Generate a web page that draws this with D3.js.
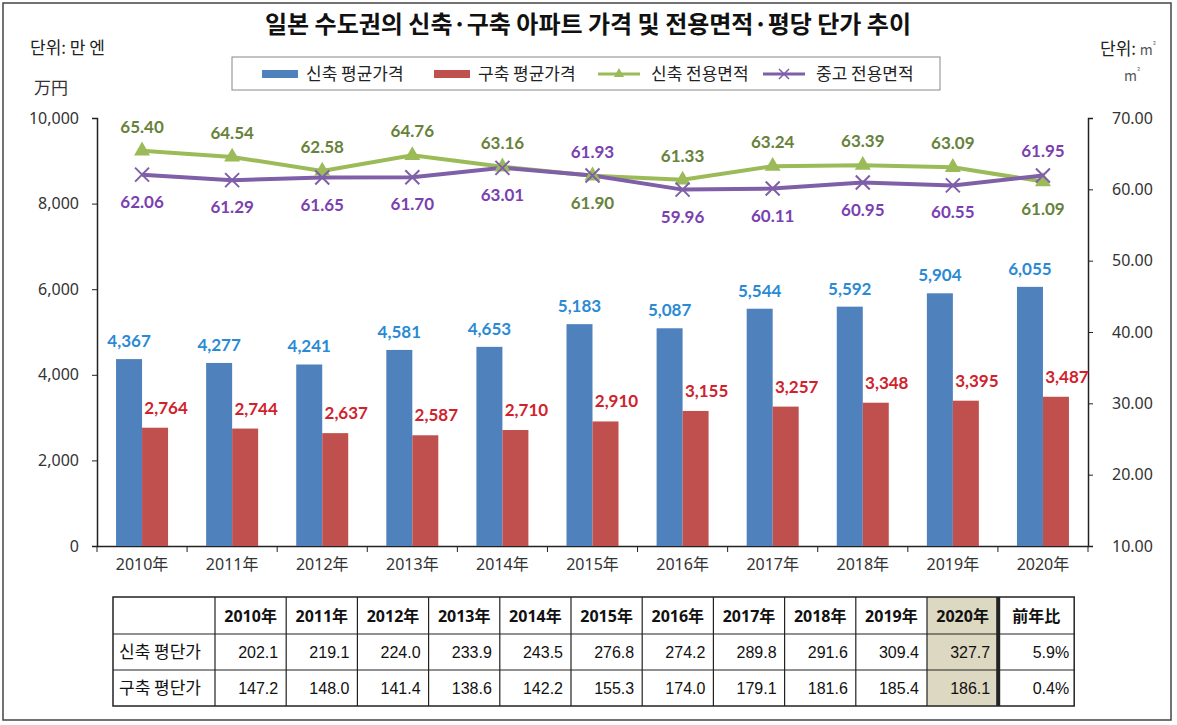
<!DOCTYPE html>
<html>
<head>
<meta charset="utf-8">
<script src="https://cdn.jsdelivr.net/npm/d3@7.9.0/dist/d3.min.js"></script>
<style>
  body { margin: 0; background: #fff; }
  svg { display: block; font-family: "Noto Sans CJK KR", "Noto Sans", sans-serif; }
</style>
</head>
<body>
<svg id="chart" width="1177" height="725"></svg>
<script>
// data
const years = ['2010', '2011', '2012', '2013', '2014', '2015', '2016', '2017', '2018', '2019', '2020'];
const newPrice = [4367, 4277, 4241, 4581, 4653, 5183, 5087, 5544, 5592, 5904, 6055];
const usedPrice = [2764, 2744, 2637, 2587, 2710, 2910, 3155, 3257, 3348, 3395, 3487];
const newArea = [65.40, 64.54, 62.58, 64.76, 63.16, 61.90, 61.33, 63.24, 63.39, 63.09, 61.09];
const usedArea = [62.06, 61.29, 61.65, 61.70, 63.01, 61.93, 59.96, 60.11, 60.95, 60.55, 61.95];
const newUnit = [202.1, 219.1, 224.0, 233.9, 243.5, 276.8, 274.2, 289.8, 291.6, 309.4, 327.7];
const usedUnit = [147.2, 148.0, 141.4, 138.6, 142.2, 155.3, 174.0, 179.1, 181.6, 185.4, 186.1];
const yoyChange = ['5.9%', '0.4%'];
const leftTicks = [0, 2000, 4000, 6000, 8000, 10000];
const rightTicks = [10, 20, 30, 40, 50, 60, 70];

const C = {
  blue: '#4f81bd', red: '#c0504d', green: '#9bbb59', purple: '#7f5fa8',
  blueTxt: '#2a8ad4', redTxt: '#d0222c', greenTxt: '#67823a', purpleTxt: '#7b3fb0'
};
const numFont = 'Lato, "Noto Sans", sans-serif';
const axisFont = '"Noto Sans", "Noto Sans CJK KR", sans-serif';

const svg = d3.select('#chart');

// outer frame
svg.append('rect').attr('x', 3).attr('y', 3).attr('width', 1168).attr('height', 717)
  .attr('fill', 'none').attr('stroke', '#444').attr('stroke-width', 1.5);

// title
svg.append('text').attr('x', 588).attr('y', 33).attr('text-anchor', 'middle')
  .attr('font-size', 24).attr('font-weight', 'bold').attr('fill', '#111')
  .text('일본 수도권의 신축·구축 아파트 가격 및 전용면적·평당 단가 추이');

// unit labels
svg.append('text').attr('x', 30).attr('y', 54).attr('font-size', 17).attr('fill', '#222').text('단위: 만 엔');
svg.append('text').attr('x', 34).attr('y', 94).attr('font-size', 17).attr('fill', '#333').text('万円');
const ru = svg.append('text').attr('x', 1100).attr('y', 55).attr('font-size', 17).attr('fill', '#222');
ru.append('tspan').text('단위: ');
ru.append('tspan').attr('fill', '#555').attr('font-size', 14).text('m');
ru.append('tspan').attr('fill', '#555').attr('font-size', 8).attr('dy', -7).text('²');
const ru2 = svg.append('text').attr('x', 1124).attr('y', 81).attr('font-size', 14).attr('fill', '#555');
ru2.append('tspan').text('m');
ru2.append('tspan').attr('font-size', 8).attr('dy', -7).text('²');

// scales
const x = d3.scaleBand().domain(years).range([97, 1088]);
const y = d3.scaleLinear().domain([0, 10000]).range([546, 118]);
const y2 = d3.scaleLinear().domain([10, 70]).range([546, 118]);
const barW = 26;

// axes
const gL = svg.append('g').attr('transform', 'translate(97,0)')
  .call(d3.axisLeft(y).tickValues(leftTicks).tickSize(5).tickFormat(d3.format(',')));
const gR = svg.append('g').attr('transform', 'translate(1088,0)')
  .call(d3.axisRight(y2).tickValues(rightTicks).tickSize(5).tickFormat(d3.format('.2f')));
const gB = svg.append('g').attr('transform', 'translate(0,546)')
  .call(d3.axisBottom(x).tickSize(0).tickFormat(d => d + '年'));
gB.selectAll('.tick text').attr('dy', 21);
gB.selectAll('.divider').data(d3.range(years.length + 1)).enter().append('line')
  .attr('x1', i => x.range()[0] + i * x.step()).attr('x2', i => x.range()[0] + i * x.step())
  .attr('y1', 0).attr('y2', 6).attr('stroke', '#222');
[gL, gR, gB].forEach(g => {
  g.select('.domain').attr('stroke', '#222').attr('stroke-width', 1.5);
  g.selectAll('.tick line').attr('stroke', '#222');
  g.selectAll('.tick text').attr('font-size', 16).attr('fill', '#333')
    .attr('font-family', axisFont);
});
gL.selectAll('.tick text').attr('x', -18);
gR.selectAll('.tick text').attr('x', 24);

// bars
svg.selectAll('.barNew').data(newPrice).enter().append('rect')
  .attr('x', (d, i) => x(years[i]) + x.bandwidth() / 2 - barW)
  .attr('y', d => y(d)).attr('width', barW).attr('height', d => y(0) - y(d))
  .attr('fill', C.blue);
svg.selectAll('.barUsed').data(usedPrice).enter().append('rect')
  .attr('x', (d, i) => x(years[i]) + x.bandwidth() / 2)
  .attr('y', d => y(d)).attr('width', barW).attr('height', d => y(0) - y(d))
  .attr('fill', C.red);

svg.selectAll('.lblNew').data(newPrice).enter().append('text')
  .attr('x', (d, i) => x(years[i]) + x.bandwidth() / 2 - barW / 2)
  .attr('y', d => y(d) - 12).attr('text-anchor', 'middle')
  .attr('font-family', numFont).attr('font-weight', 'bold').attr('font-size', 17)
  .attr('fill', C.blueTxt).text(d => d3.format(',')(d));
svg.selectAll('.lblUsed').data(usedPrice).enter().append('text')
  .attr('x', (d, i) => x(years[i]) + x.bandwidth() / 2 + barW / 2 + 11)
  .attr('y', d => y(d) - 14).attr('text-anchor', 'middle')
  .attr('font-family', numFont).attr('font-weight', 'bold').attr('font-size', 17)
  .attr('fill', C.redTxt).text(d => d3.format(',')(d));

// lines
const cx = i => x(years[i]) + x.bandwidth() / 2;
const line = d3.line().x((d, i) => cx(i)).y(d => y2(d));
svg.append('path').datum(newArea).attr('d', line).attr('fill', 'none')
  .attr('stroke', C.green).attr('stroke-width', 4);
svg.append('path').datum(usedArea).attr('d', line).attr('fill', 'none')
  .attr('stroke', C.purple).attr('stroke-width', 4);

const tri = d3.symbol().type(d3.symbolTriangle).size(110);
svg.selectAll('.mNew').data(newArea).enter().append('path')
  .attr('d', tri).attr('transform', (d, i) => `translate(${cx(i)},${y2(d)})`)
  .attr('fill', C.green);
svg.selectAll('.mUsed').data(usedArea).enter().append('path')
  .attr('d', 'M-7,-7L7,7M-7,7L7,-7')
  .attr('transform', (d, i) => `translate(${cx(i)},${y2(d)})`)
  .attr('stroke', C.purple).attr('stroke-width', 2);

// line labels: the higher value goes above, the lower below
function areaLabels(vals, other, color) {
  svg.selectAll(null).data(vals).enter().append('text')
    .attr('x', (d, i) => cx(i))
    .attr('y', (d, i) => d >= other[i] ? y2(d) - 18 : y2(d) + 33)
    .attr('text-anchor', 'middle')
    .attr('font-family', numFont).attr('font-weight', 'bold').attr('font-size', 17)
    .attr('fill', color).text(d => d.toFixed(2));
}
areaLabels(newArea, usedArea, C.greenTxt);
areaLabels(usedArea, newArea, C.purpleTxt);

// legend
const lg = svg.append('g');
lg.append('rect').attr('x', 232).attr('y', 57).attr('width', 708).attr('height', 33)
  .attr('fill', '#fff').attr('stroke', '#888');
const legendItems = [
  { label: '신축 평균가격', kind: 'bar', color: C.blue, x: 262 },
  { label: '구축 평균가격', kind: 'bar', color: C.red, x: 434 },
  { label: '신축 전용면적', kind: 'tri', color: C.green, x: 598 },
  { label: '중고 전용면적', kind: 'x', color: C.purple, x: 763 }
];
legendItems.forEach(it => {
  if (it.kind === 'bar') {
    lg.append('rect').attr('x', it.x).attr('y', 70).attr('width', 36).attr('height', 8).attr('fill', it.color);
  } else {
    lg.append('line').attr('x1', it.x).attr('x2', it.x + 42).attr('y1', 74).attr('y2', 74)
      .attr('stroke', it.color).attr('stroke-width', 3);
    if (it.kind === 'tri') {
      lg.append('path').attr('d', d3.symbol().type(d3.symbolTriangle).size(45))
        .attr('transform', `translate(${it.x + 21},74)`).attr('fill', it.color);
    } else {
      lg.append('path').attr('d', 'M-5,-5L5,5M-5,5L5,-5')
        .attr('transform', `translate(${it.x + 21},74)`).attr('stroke', it.color).attr('stroke-width', 1.5);
    }
  }
  lg.append('text').attr('x', it.x + (it.kind === 'bar' ? 44 : 53)).attr('y', 80)
    .attr('font-size', 17).attr('fill', '#222').text(it.label);
});

// table of price per pyeong
const colW = [102].concat(years.map(() => 71.2), [76]);
const colX = [113];
colW.forEach(w => colX.push(colX[colX.length - 1] + w));
const rowY = [597, 634, 670, 706];
const tbl = svg.append('g');
const lastYear = years.length;

tbl.append('rect').attr('x', colX[lastYear]).attr('y', rowY[0])
  .attr('width', colW[lastYear]).attr('height', rowY[3] - rowY[0]).attr('fill', '#ddd8c2');
tbl.append('rect').attr('x', colX[0]).attr('y', rowY[0])
  .attr('width', colX[colX.length - 1] - colX[0]).attr('height', rowY[3] - rowY[0])
  .attr('fill', 'none').attr('stroke', '#222').attr('stroke-width', 1.5);
colX.slice(1, -1).forEach((cxv, i) => {
  tbl.append('line').attr('x1', cxv).attr('x2', cxv).attr('y1', rowY[0]).attr('y2', rowY[3])
    .attr('stroke', '#222').attr('stroke-width', i === lastYear ? 4 : 1.2);
});
rowY.slice(1, -1).forEach(ry => {
  tbl.append('line').attr('x1', colX[0]).attr('x2', colX[colX.length - 1]).attr('y1', ry).attr('y2', ry)
    .attr('stroke', '#222').attr('stroke-width', 1.2);
});

const header = [''].concat(years.map(d => d + '年'), ['前年比']);
header.forEach((h, i) => {
  tbl.append('text').attr('x', colX[i] + colW[i] / 2).attr('y', rowY[0] + 25)
    .attr('text-anchor', 'middle').attr('font-size', 16).attr('font-weight', 'bold')
    .attr('fill', '#111').attr('font-family', '"Noto Sans", "Noto Sans CJK JP", sans-serif').text(h);
});
const tableRows = [
  { label: '신축 평단가', vals: newUnit, yoy: yoyChange[0] },
  { label: '구축 평단가', vals: usedUnit, yoy: yoyChange[1] }
];
tableRows.forEach((r, ri) => {
  const by = rowY[ri + 1] + 24;
  tbl.append('text').attr('x', colX[0] + 6).attr('y', by).attr('font-size', 17)
    .attr('fill', '#111').text(r.label);
  r.vals.forEach((v, i) => {
    tbl.append('text').attr('x', colX[i + 2] - 8).attr('y', by).attr('text-anchor', 'end')
      .attr('font-family', '"Liberation Sans Narrow", "Liberation Sans", sans-serif')
      .attr('font-size', 16).attr('fill', '#111').text(v.toFixed(1));
  });
  tbl.append('text').attr('x', colX[colX.length - 1] - 5).attr('y', by).attr('text-anchor', 'end')
    .attr('font-family', '"Liberation Sans Narrow", "Liberation Sans", sans-serif')
    .attr('font-size', 16).attr('fill', '#111').text(r.yoy);
});
</script>
</body>
</html>
